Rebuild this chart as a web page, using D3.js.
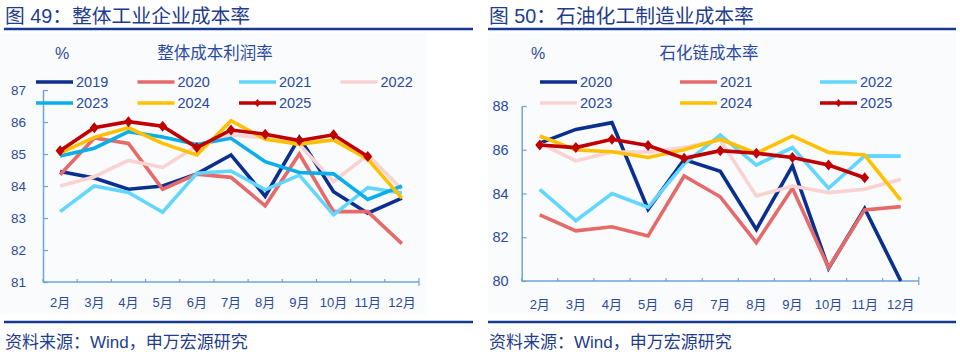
<!DOCTYPE html>
<html><head><meta charset="utf-8">
<script src="https://cdn.jsdelivr.net/npm/d3@7"></script>
<style>
html,body{margin:0;padding:0;background:#fff;}
svg{display:block;}
text{font-family:"Liberation Sans","Noto Sans CJK SC",Arial,sans-serif;}
</style></head>
<body>
<svg id="c" width="960" height="355"></svg>
<script>
// ---------- DATA ----------
const months = ["2月","3月","4月","5月","6月","7月","8月","9月","10月","11月","12月"];

// Chart 49: 整体成本利润率
const leftTicks = [81,82,83,84,85,86,87];
const left2019 = [84.45,84.25,83.9,84.0,84.38,84.97,83.68,85.52,83.82,83.15,83.62];
const left2020 = [84.35,85.5,85.33,83.9,84.37,84.27,83.38,85.0,83.2,83.2,82.2];
const left2021 = [83.2,84.0,83.8,83.18,84.4,84.47,83.88,84.34,83.1,83.95,83.78];
const left2022 = [84.0,84.29,84.8,84.58,85.25,85.6,85.5,85.3,84.14,84.97,83.9];
const left2023 = [84.94,85.18,85.7,85.53,85.3,85.49,84.76,84.42,84.38,83.58,84.0];
const left2024 = [85.03,85.52,85.82,85.33,84.97,86.04,85.46,85.31,85.44,84.84,83.62];
const left2025 = [85.1,85.82,86.01,85.87,85.2,85.75,85.62,85.42,85.6,84.92,null];

// Chart 50: 石化链成本率
const rightTicks = [80,82,84,86,88];
const right2020 = [86.3,86.93,87.24,83.28,85.55,85.02,82.36,85.26,80.58,83.32,80.0];
const right2021 = [83.02,82.29,82.48,82.06,84.8,83.85,81.75,84.24,80.61,83.25,83.4];
const right2022 = [84.19,82.76,84.0,83.37,85.35,86.67,85.3,86.1,84.24,85.72,85.71];
const right2023 = [86.3,85.49,85.9,85.9,86.1,86.45,83.89,84.34,84.04,84.19,84.65];
const right2024 = [86.63,85.99,85.91,85.65,86.0,86.48,85.84,86.63,85.88,85.76,83.7];
const right2025 = [86.22,86.1,86.48,86.19,85.61,85.96,85.84,85.65,85.3,84.72,null];

// ---------- STYLE ----------
const C = {
  navy:"#0B2F8E", salmon:"#E56B6B", lcyan:"#62D6FF", pink:"#F9D2D2",
  cyan:"#0AAEEB", yellow:"#FFC000", red:"#C00000",
  text:"#2A4A9C", title:"#1F3D8C", rule:"#17388F", axis:"#6FA3D8"
};

const svg = d3.select("#c");

function drawChart(cfg){
  const g = svg.append("g");
  // panel background
  g.append("rect").attr("x",cfg.panel[0]).attr("y",cfg.panel[1])
    .attr("width",cfg.panel[2]).attr("height",cfg.panel[3]).attr("fill","#FAFBFD");
  // figure title
  g.append("text").attr("x",cfg.titleX).attr("y",23).attr("font-size",19.8)
    .attr("fill",C.title).text(cfg.title);
  g.append("line").attr("x1",cfg.ruleX[0]).attr("x2",cfg.ruleX[1])
    .attr("y1",29).attr("y2",29).attr("stroke",C.rule).attr("stroke-width",2.5);
  // bottom rule + source
  g.append("line").attr("x1",cfg.ruleX[0]).attr("x2",cfg.ruleX[1])
    .attr("y1",322).attr("y2",322).attr("stroke",C.rule).attr("stroke-width",2.5);
  g.append("text").attr("x",cfg.titleX).attr("y",348).attr("font-size",17)
    .attr("fill",C.title).text("资料来源：Wind，申万宏源研究");
  // chart header
  g.append("text").attr("x",cfg.pctX).attr("y",59).attr("font-size",16)
    .attr("text-anchor","middle").attr("fill",C.text).text("%");
  g.append("text").attr("x",cfg.subX).attr("y",59).attr("font-size",16.5)
    .attr("text-anchor","middle").attr("fill",C.text).text(cfg.sub);

  const x = d3.scaleBand().domain(months).range(cfg.xr);
  const cx = m => x(m) + x.bandwidth()/2;
  const y = d3.scaleLinear().domain(cfg.yd).range(cfg.yr);

  // y axis
  const ya = g.append("g").attr("transform",`translate(${cfg.xr[0]},0)`)
    .call(d3.axisLeft(y).tickValues(cfg.ticks).tickFormat(d3.format("d"))
      .tickSizeInner(-5).tickSizeOuter(0).tickPadding(cfg.yPad));
  ya.select(".domain").attr("stroke",C.axis).attr("stroke-width",1.5);
  ya.selectAll(".tick line").attr("stroke",C.axis).attr("stroke-width",1.2);
  ya.selectAll("text").attr("fill",C.text).attr("font-size",cfg.yFont)
    .attr("font-family","Liberation Sans, Arial, sans-serif");

  // x axis
  const xa = g.append("g").attr("transform",`translate(0,${cfg.yr[0]})`)
    .call(d3.axisBottom(x).tickSize(0).tickPadding(cfg.xPad));
  xa.select(".domain").remove();
  xa.selectAll("text").attr("fill",C.text).attr("font-size",13);
  g.append("line").attr("x1",cfg.xr[0]).attr("x2",cfg.xr[1])
    .attr("y1",cfg.yr[0]).attr("y2",cfg.yr[0]).attr("stroke",C.axis).attr("stroke-width",1.5);
  const edges = months.map(m => x(m)).concat([cfg.xr[1]]);
  g.selectAll(".xt").data(edges).enter().append("line")
    .attr("x1",d=>d).attr("x2",d=>d)
    .attr("y1",(d,i)=> i===edges.length-1 ? cfg.yr[0]-4 : cfg.yr[0]-3)
    .attr("y2",(d,i)=> i===edges.length-1 ? cfg.yr[0]+4 : cfg.yr[0])
    .attr("stroke",C.axis).attr("stroke-width",1.2);

  // lines
  const line = d3.line().defined(d=>d[1]!=null).x(d=>cx(d[0])).y(d=>y(d[1]));
  cfg.series.forEach(s=>{
    const pts = months.map((m,i)=>[m,s.values[i]]);
    g.append("path").datum(pts).attr("d",line).attr("fill","none")
      .attr("stroke",s.color).attr("stroke-width",3.6)
      .attr("stroke-linejoin","miter").attr("stroke-linecap","butt");
    if(s.marker){
      g.selectAll(null).data(pts.filter(d=>d[1]!=null)).enter().append("path")
        .attr("d","M0,-5.5L4.5,0L0,5.5L-4.5,0Z")
        .attr("transform",d=>`translate(${cx(d[0])},${y(d[1])})`)
        .attr("fill",s.color);
    }
  });

  // legend
  cfg.series.forEach((s,i)=>{
    const col = i % cfg.legCols, row = Math.floor(i / cfg.legCols);
    const lx = cfg.legX + col*cfg.legDX, ly = cfg.legY[row];
    g.append("line").attr("x1",lx).attr("x2",lx+37).attr("y1",ly).attr("y2",ly)
      .attr("stroke",s.color).attr("stroke-width",3.6);
    if(s.marker){
      g.append("path").attr("d","M0,-4L3.3,0L0,4L-3.3,0Z")
        .attr("transform",`translate(${lx+18.5},${ly})`).attr("fill",s.color);
    }
    g.append("text").attr("x",lx+40).attr("y",ly+5).attr("font-size",14.5)
      .attr("fill",C.text).text(s.name);
  });
}

drawChart({
  title:"图 49：整体工业企业成本率", titleX:5, ruleX:[4,473],
  panel:[0,33,427,282],
  pctX:62, subX:215, sub:"整体成本利润率",
  xr:[43,419], yd:[81,87], yr:[282,90], ticks:leftTicks, yPad:17, yFont:13.5, xPad:16,
  legX:36, legDX:101.5, legCols:4, legY:[82,103],
  series:[
    {name:"2019",values:left2019,color:C.navy},
    {name:"2020",values:left2020,color:C.salmon},
    {name:"2021",values:left2021,color:C.lcyan},
    {name:"2022",values:left2022,color:C.pink},
    {name:"2023",values:left2023,color:C.cyan},
    {name:"2024",values:left2024,color:C.yellow},
    {name:"2025",values:left2025,color:C.red,marker:true}
  ]
});

drawChart({
  title:"图 50：石油化工制造业成本率", titleX:489, ruleX:[488,956],
  panel:[488,33,468,282],
  pctX:538, subX:709, sub:"石化链成本率",
  xr:[521.7,918.8], yd:[80,88], yr:[281,106], ticks:rightTicks, yPad:13, yFont:14.5, xPad:19,
  legX:540, legDX:140, legCols:3, legY:[82,103],
  series:[
    {name:"2020",values:right2020,color:C.navy},
    {name:"2021",values:right2021,color:C.salmon},
    {name:"2022",values:right2022,color:C.lcyan},
    {name:"2023",values:right2023,color:C.pink},
    {name:"2024",values:right2024,color:C.yellow},
    {name:"2025",values:right2025,color:C.red,marker:true}
  ]
});
</script>
</body></html>
